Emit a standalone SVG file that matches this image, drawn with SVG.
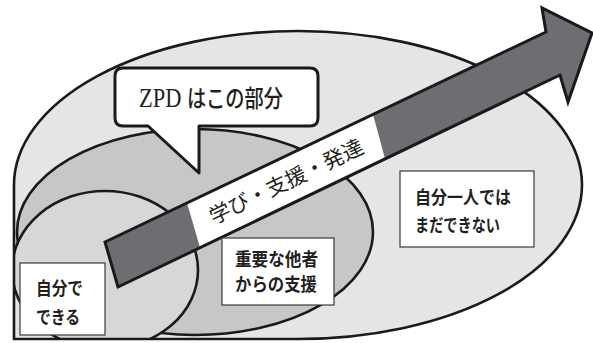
<svg xmlns="http://www.w3.org/2000/svg" width="593" height="343" viewBox="0 0 593 343">
<style>
.zone{stroke:#1a1a1a;stroke-width:2.6}
.lbl{fill:#fff;stroke:#3a3a3a;stroke-width:1.2}
.lt{font-family:"Noto Sans CJK JP","Noto Sans",sans-serif;font-weight:bold;font-size:18px;fill:#231f20}
.zpd{font-family:"Liberation Serif","DejaVu Serif",serif;font-size:28px}
.jp{font-family:"Noto Sans CJK JP",sans-serif;font-weight:500;font-size:24px}
</style>
<defs>
<clipPath id="outerClip"><path d="M14,185 A284,154 0 0 1 582,185 A284,154 0 0 1 298,339 L14,339 Z"/></clipPath>
</defs>
<rect width="593" height="343" fill="#fff"/>
<g id="outer">
<path d="M14,185 A284,154 0 0 1 582,185 A284,154 0 0 1 298,339 L14,339 Z" fill="#e4e5e7"/>
</g>
<g id="middle" clip-path="url(#outerClip)">
<ellipse cx="195" cy="232" rx="178" ry="103" fill="#c6c7c9" class="zone"/>
</g>
<g id="inner" clip-path="url(#outerClip)">
<ellipse cx="105" cy="270" rx="93" ry="79" fill="#d6d7d9" class="zone"/>
</g>
<path d="M14,185 A284,154 0 0 1 582,185 A284,154 0 0 1 298,339 L14,339 Z" fill="none" class="zone"/>
<g id="bubble">
<path d="M123,68 H310 Q318,68 318,76 V118 Q318,126 310,126 H199 V173 L148,126 H123 Q115,126 115,118 V76 Q115,68 123,68 Z" fill="#fff" stroke="#1a1a1a" stroke-width="3" stroke-linejoin="round"/>
<text transform="translate(139,107) scale(0.8,1)" x="0" y="0" fill="#231f20"><tspan class="zpd">ZPD </tspan><tspan class="jp">はこの部分</tspan></text>
</g>
<g id="connectors">
<g id="arrow">
<polygon points="105,242 546,32 542,8 592,33 568,102 560,75 118,287" fill="#6d6e71"/>
<polygon points="187,203 373,114.5 385,158.8 200,247.6" fill="#fff"/>
<polygon points="105,242 546,32 542,8 592,33 568,102 560,75 118,287" fill="none" stroke="#1a1a1a" stroke-width="3" stroke-linejoin="miter"/>
<text transform="translate(286,181) rotate(-25.5)" x="0" y="8" text-anchor="middle" font-family="'Noto Sans CJK JP',sans-serif" font-size="21" fill="#231f20" textLength="168" lengthAdjust="spacingAndGlyphs">学び・支援・発達</text>
</g>
</g>
<g id="label-self">
<rect x="20" y="263" width="85" height="72" class="lbl"/>
<text class="lt" x="36" y="295" textLength="47" lengthAdjust="spacingAndGlyphs">自分で</text>
<text class="lt" x="36" y="324" textLength="44" lengthAdjust="spacingAndGlyphs">できる</text>
</g>
<g id="label-support">
<rect x="222" y="238" width="112" height="67" class="lbl"/>
<text class="lt" x="235" y="266" textLength="83" lengthAdjust="spacingAndGlyphs">重要な他者</text>
<text class="lt" x="235" y="291" textLength="82" lengthAdjust="spacingAndGlyphs">からの支援</text>
</g>
<g id="label-cannot">
<rect x="400" y="171" width="134" height="76" class="lbl"/>
<text class="lt" x="415" y="204" textLength="96" lengthAdjust="spacingAndGlyphs">自分一人では</text>
<text class="lt" x="415" y="232" textLength="85" lengthAdjust="spacingAndGlyphs">まだできない</text>
</g>
</svg>
